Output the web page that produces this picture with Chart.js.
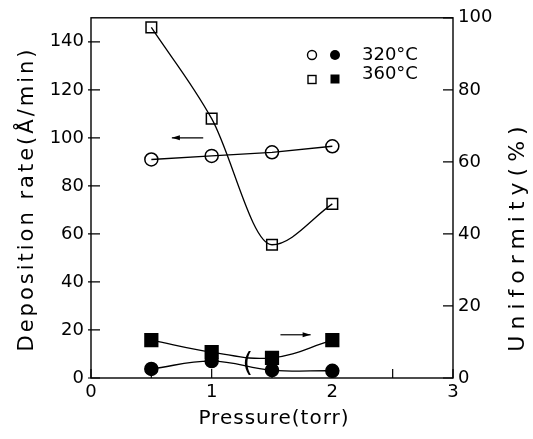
<!DOCTYPE html>
<html><head><meta charset="utf-8">
<script src="https://cdn.jsdelivr.net/npm/chart.js@4.4.0/dist/chart.umd.min.js"></script>
<style>html,body{margin:0;padding:0;background:#fff;}#wrap{width:533px;height:439px;position:relative;}</style>
</head><body><div id="wrap"><canvas id="c"></canvas></div>
<script>
// ---- data ----
const pressure = [0.5, 1.0, 1.5, 2.0];
const rate320 = [91, 92.5, 94, 96.5];      // open circles, left axis
const rate360 = [146, 108, 55.5, 72.5];    // open squares, left axis
const unif320 = [2.5, 4.7, 2.2, 2.0];      // filled circles, right axis
const unif360 = [10.5, 7.2, 5.6, 10.5];    // filled squares, right axis
const xTickValues = [0, 0.5, 1, 1.5, 2, 2.5, 3];
const xTickLabels = ['0', '', '1', '', '2', '', '3'];
const leftTickValues = [0, 20, 40, 60, 80, 100, 120, 140];
const rightTickValues = [0, 20, 40, 60, 80, 100];
const legendLabels = ['320°C', '360°C'];
const xTitle = 'Pressure(torr)';
const leftTitle = 'Deposition rate(Å/min)';
const rightTitle = 'Uniformity(%)';

const FONT = 'DejaVu Sans';
const pts = ys => pressure.map((x, i) => ({x: x, y: ys[i]}));
const tickFont = {family: FONT, size: 18};

const base = {borderColor: '#000', borderWidth: 1.3, fill: false, pointBorderColor: '#000', pointBorderWidth: 1.5};

const deco = {
  id: 'deco',
  afterDraw(chart) {
    const ctx = chart.ctx, a = chart.chartArea;
    const sx = chart.scales.x, sy = chart.scales.y, sy2 = chart.scales.y2;
    ctx.save();
    ctx.strokeStyle = '#000'; ctx.fillStyle = '#000';
    // frame
    ctx.lineWidth = 1.4;
    ctx.strokeRect(a.left, a.top, a.right - a.left, a.bottom - a.top);
    // tick marks (inward)
    ctx.lineWidth = 1.2;
    ctx.beginPath();
    sy.ticks.forEach(t => { const p = sy.getPixelForValue(t.value); ctx.moveTo(a.left - 3, p); ctx.lineTo(a.left + 9, p); });
    sy2.ticks.forEach(t => { const p = sy2.getPixelForValue(t.value); ctx.moveTo(a.right - 10, p); ctx.lineTo(a.right, p); });
    sx.ticks.forEach(t => { const p = sx.getPixelForValue(t.value); ctx.moveTo(p, a.bottom); ctx.lineTo(p, a.bottom - 9); });
    ctx.stroke();
    // arrows
    function arrow(x1, x2, py, dir) {
      ctx.lineWidth = 1.2;
      ctx.beginPath(); ctx.moveTo(x1, py); ctx.lineTo(x2, py); ctx.stroke();
      const hx = dir < 0 ? Math.min(x1, x2) : Math.max(x1, x2);
      ctx.beginPath(); ctx.moveTo(hx, py); ctx.lineTo(hx - dir * 8, py - 2.5); ctx.lineTo(hx - dir * 8, py + 2.5); ctx.closePath(); ctx.fill();
    }
    arrow(sx.getPixelForValue(0.67), sx.getPixelForValue(0.93), sy.getPixelForValue(100), -1);
    arrow(sx.getPixelForValue(1.57), sx.getPixelForValue(1.82), sy2.getPixelForValue(12), 1);
    // bracket
    ctx.font = '27px "' + FONT + '"';
    ctx.textAlign = 'center'; ctx.textBaseline = 'middle';
    ctx.fillText('(', sx.getPixelForValue(1.30), sy2.getPixelForValue(3.8));
    // legend
    ctx.lineWidth = 1.4;
    ctx.beginPath(); ctx.arc(312, 55, 4.5, 0, Math.PI * 2); ctx.stroke();
    ctx.beginPath(); ctx.arc(335, 55, 5, 0, Math.PI * 2); ctx.fill();
    ctx.strokeRect(308, 75.5, 8, 8);
    ctx.fillRect(330.5, 74.5, 9, 9);
    ctx.font = '18px "' + FONT + '"';
    ctx.textAlign = 'left';
    ctx.fillText(legendLabels[0], 362, 55);
    ctx.fillText(legendLabels[1], 362, 74);
    // titles
    ctx.textAlign = 'center'; ctx.textBaseline = 'middle';
    ctx.font = '20px "' + FONT + '"';
    ctx.letterSpacing = '1px';
    ctx.fillText(xTitle, 274, 419);
    ctx.save();
    ctx.translate(28, 199); ctx.rotate(-Math.PI / 2);
    ctx.font = '21px "' + FONT + '"';
    ctx.letterSpacing = '3px';
    ctx.fillText(leftTitle, 0, 0);
    ctx.restore();
    ctx.save();
    ctx.translate(518, 236); ctx.rotate(-Math.PI / 2);
    ctx.font = '22px "' + FONT + '"';
    ctx.letterSpacing = '6px';
    ctx.fillText(rightTitle, 0, 0);
    ctx.restore();
    ctx.restore();
  }
};

new Chart(document.getElementById('c'), {
  type: 'line',
  data: {
    datasets: [
      Object.assign({}, base, {data: pts(rate320), yAxisID: 'y', tension: 0, pointStyle: 'circle', pointRadius: 6.5, pointBackgroundColor: 'rgba(0,0,0,0)'}),
      Object.assign({}, base, {data: pts(rate360), yAxisID: 'y', cubicInterpolationMode: 'monotone', pointStyle: 'rect', pointRadius: 7.5, pointBackgroundColor: 'rgba(0,0,0,0)'}),
      Object.assign({}, base, {data: pts(unif320), yAxisID: 'y2', tension: 0.4, pointStyle: 'circle', pointRadius: 6.5, pointBackgroundColor: '#000'}),
      Object.assign({}, base, {data: pts(unif360), yAxisID: 'y2', tension: 0.4, pointStyle: 'rect', pointRadius: 9, pointBackgroundColor: '#000'})
    ]
  },
  options: {
    responsive: true, maintainAspectRatio: false, animation: false,
    layout: {padding: {top: 15, left: 0, right: 0, bottom: 0}},
    plugins: {legend: {display: false}, tooltip: {enabled: false}},
    scales: {
      x: {
        type: 'linear', min: 0, max: 3,
        afterBuildTicks: s => { s.ticks = xTickValues.map(v => ({value: v})); },
        afterFit: s => { s.height = 61; },
        ticks: {callback: (v, i) => xTickLabels[i], font: tickFont, color: '#000', padding: 4, maxRotation: 0, autoSkip: false},
        grid: {display: false, drawTicks: false}, border: {display: false}
      },
      y: {
        type: 'linear', position: 'left', min: 0, max: 150,
        afterBuildTicks: s => { s.ticks = leftTickValues.map(v => ({value: v})); },
        afterFit: s => { s.width = 91; },
        ticks: {font: tickFont, color: '#000', padding: 7, autoSkip: false},
        grid: {display: false, drawTicks: false}, border: {display: false}
      },
      y2: {
        type: 'linear', position: 'right', min: 0, max: 100,
        afterBuildTicks: s => { s.ticks = rightTickValues.map(v => ({value: v})); },
        afterFit: s => { s.width = 80; },
        ticks: {font: tickFont, color: '#000', padding: 5, autoSkip: false},
        grid: {display: false, drawTicks: false}, border: {display: false}
      }
    }
  },
  plugins: [deco]
});
</script></body></html>
